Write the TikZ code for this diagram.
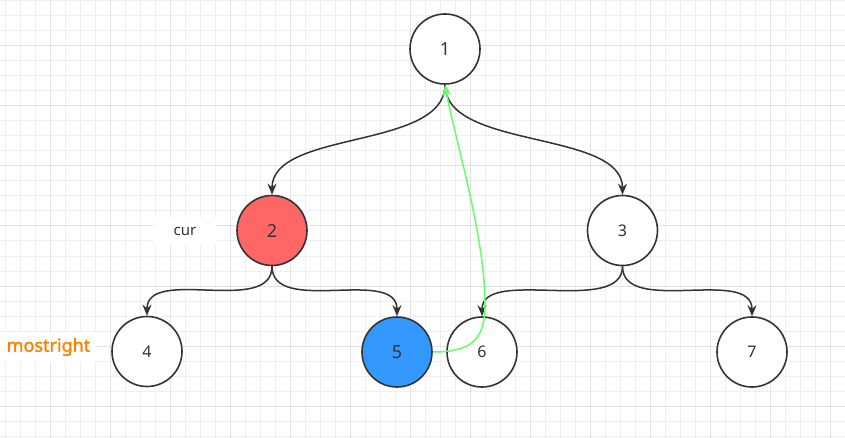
\documentclass[tikz,border=0pt]{standalone}
\usepackage{fontspec}
\setmainfont{Noto Sans}
\newfontfamily\mrfont[FakeBold=1.6]{Noto Sans}
\usetikzlibrary{arrows.meta,calc}
\definecolor{gridminor}{HTML}{EFEFEF}
\definecolor{gridmajor}{HTML}{E2E2E2}
\definecolor{strokec}{HTML}{333333}
\definecolor{redfill}{HTML}{FF6666}
\definecolor{bluefill}{HTML}{3399FF}
\definecolor{greenline}{HTML}{66FF66}
\definecolor{orangetxt}{HTML}{FF8000}
\tikzset{
  treenode/.style={circle,draw=strokec,line width=1.6pt,minimum size=70pt,inner sep=0pt,
    text=strokec,font=\fontsize{16}{18}\selectfont},
  bignum/.style={font=\fontsize{18}{20}\selectfont},
  conn/.style={draw=strokec,line width=1.5pt,-{Stealth[length=11pt,width=9pt]}},
  backedge/.style={draw=greenline,line width=1.5pt,-{Stealth[length=11pt,width=9pt]}},
  lbl/.style={fill=white,inner sep=0pt,text=strokec,font=\fontsize{15}{18}\selectfont}
}
\begin{document}
\begin{tikzpicture}[x=1pt,y=-1pt]
\useasboundingbox (0,0) rectangle (845,438);
\fill[white] (0,0) rectangle (845,438);
% grid
\foreach \i in {0,...,56} {
  \draw[gridminor,line width=1pt] ({5+15*\i},0) -- ({5+15*\i},438);
}
\foreach \i in {0,...,29} {
  \draw[gridminor,line width=1pt] (0,{1+15*\i}) -- (845,{1+15*\i});
}
\foreach \i in {0,...,13} {
  \draw[gridmajor,line width=1pt] ({50+60*\i},0) -- ({50+60*\i},438);
}
\foreach \i in {0,...,6} {
  \draw[gridmajor,line width=1pt] (0,{46+60*\i}) -- (845,{46+60*\i});
}
% nodes
\node[treenode,fill=white,bignum] (n1) at (445,49) {1};
\node[treenode,fill=redfill,bignum] (n2) at (272,230.5) {2};
\node[treenode,fill=white] (n3) at (622.5,230.5) {3};
\node[treenode,fill=white] (n4) at (147,351.5) {4};
\node[treenode,fill=bluefill,bignum] (n5) at (397,352) {5};
\node[treenode,fill=white] (n6) at (482,352) {6};
\node[treenode,fill=white] (n7) at (752,352) {7};
% labels
\node[lbl,minimum width=64pt,minimum height=28pt] (cur) at (185,231) {cur};
\node[fill=white,inner sep=0pt,minimum width=96pt,minimum height=30pt,text=orangetxt,
  font=\mrfont\fontsize{18}{20}\selectfont] (mr) at (48.5,347) {mostright};
% edges
\draw[conn] (n1.south) .. controls +(0,65) and +(0,-65) .. (n2.north);
\draw[conn] (n1.south) .. controls +(0,65) and +(0,-65) .. (n3.north);
\draw[conn] (n2.south) .. controls +(0,50) and +(0,-50) .. (n4.north);
\draw[conn] (n2.south) .. controls +(0,50) and +(0,-50) .. (n5.north);
\draw[conn] (n3.south) .. controls +(0,50) and +(0,-50) .. (n6.north);
\draw[conn] (n3.south) .. controls +(0,50) and +(0,-50) .. (n7.north);
% threaded back edge
\coordinate (g1) at (485,305);
\draw[backedge] (n5.east) .. controls +(38,0) and +(0,35) .. (g1)
  .. controls +(0,-70) and +(10,55) .. (n1.south);
\end{tikzpicture}
\end{document}
